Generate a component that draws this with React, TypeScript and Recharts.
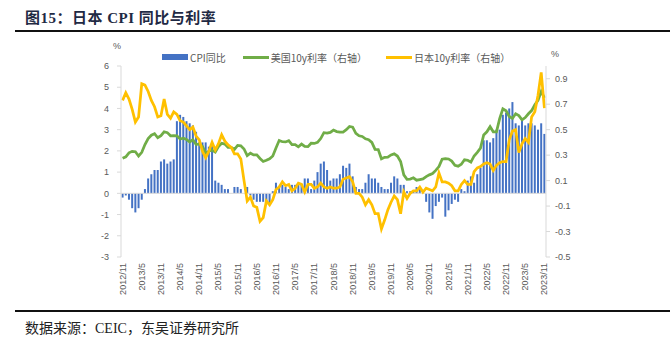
import React from "react";
import {
  ComposedChart,
  Bar,
  Line,
  XAxis,
  YAxis,
  Legend,
  ReferenceLine,
} from "recharts";

// monthly, 2012/11 - 2023/11
const startYear = 2012;
const startMonth = 11;

// 日本 CPI 同比 (%)
const cpiYoy = [
  -0.2, -0.1,
  -0.3, -0.7, -0.9, -0.7, -0.3, 0.2, 0.7, 0.9, 1.1, 1.1, 1.5, 1.6,
  1.4, 1.5, 1.6, 3.4, 3.7, 3.6, 3.4, 3.3, 3.2, 2.9, 2.4, 2.4,
  2.4, 2.2, 2.3, 0.6, 0.5, 0.4, 0.2, 0.2, 0.0, 0.3, 0.3, 0.2,
  0.0, 0.3, -0.1, -0.3, -0.4, -0.4, -0.4, -0.5, -0.5, 0.1, 0.5, 0.3,
  0.4, 0.3, 0.2, 0.4, 0.4, 0.4, 0.4, 0.7, 0.7, 0.2, 0.6, 1.0,
  1.4, 1.5, 1.1, 0.6, 0.7, 0.7, 0.9, 1.3, 1.2, 1.4, 0.8, 0.3,
  0.2, 0.2, 0.5, 0.9, 0.7, 0.7, 0.5, 0.3, 0.2, 0.2, 0.5, 0.8,
  0.7, 0.4, 0.4, 0.1, 0.1, 0.1, 0.3, 0.2, 0.0, -0.4, -0.9, -1.2,
  -0.6, -0.4, -0.2, -1.1, -0.8, -0.5, -0.3, -0.4, 0.2, 0.1, 0.6, 0.8,
  0.5, 0.9, 1.2, 2.5, 2.5, 2.4, 2.6, 3.0, 3.0, 3.7, 3.8, 4.0,
  4.3, 3.3, 3.2, 3.5, 3.2, 3.3, 3.3, 3.2, 3.0, 3.3, 2.8,
];

// 美国10y利率 (%), drawn against the left scale
const us10y = [
  1.65, 1.72,
  1.91, 1.98, 1.96, 1.76, 1.93, 2.3, 2.58, 2.74, 2.81, 2.62, 2.72, 2.9,
  2.86, 2.71, 2.72, 2.71, 2.56, 2.6, 2.54, 2.42, 2.53, 2.3, 2.33, 2.21,
  1.88, 1.98, 2.04, 1.94, 2.2, 2.36, 2.32, 2.17, 2.17, 2.07, 2.26, 2.24,
  2.09, 1.78, 1.89, 1.81, 1.81, 1.64, 1.5, 1.56, 1.63, 1.76, 2.14, 2.49,
  2.43, 2.42, 2.48, 2.3, 2.3, 2.19, 2.32, 2.21, 2.2, 2.36, 2.35, 2.4,
  2.58, 2.86, 2.84, 2.87, 2.98, 2.91, 2.89, 2.89, 3.0, 3.15, 3.12, 2.83,
  2.71, 2.68, 2.57, 2.53, 2.4, 2.07, 2.06, 1.63, 1.7, 1.71, 1.81, 1.86,
  1.76, 1.5, 0.87, 0.66, 0.67, 0.73, 0.62, 0.65, 0.68, 0.79, 0.87, 0.93,
  1.08, 1.26, 1.61, 1.64, 1.62, 1.52, 1.32, 1.28, 1.37, 1.58, 1.56, 1.47,
  1.76, 1.93, 2.13, 2.75, 2.9, 3.14, 2.9, 2.9, 3.52, 3.98, 3.89, 3.62,
  3.53, 3.75, 3.66, 3.46, 3.57, 3.75, 3.9, 4.17, 4.38, 4.8, 4.5,
];

// 日本10y利率 (%), right scale
const jp10y = [
  0.73, 0.79,
  0.74, 0.66, 0.56, 0.6, 0.86, 0.85, 0.8, 0.73, 0.68, 0.6, 0.61, 0.74,
  0.62, 0.59, 0.64, 0.62, 0.57, 0.56, 0.53, 0.5, 0.52, 0.45, 0.42, 0.33,
  0.28, 0.33, 0.4, 0.34, 0.39, 0.46, 0.41, 0.38, 0.36, 0.31, 0.31, 0.27,
  0.1, -0.06, -0.03, -0.1, -0.11, -0.22, -0.19, -0.06, -0.09, -0.05, 0.03, 0.05,
  0.09, 0.06, 0.07, 0.02, 0.04, 0.08, 0.07, 0.01, 0.07, 0.07, 0.04, 0.05,
  0.08, 0.05, 0.04, 0.05, 0.04, 0.04, 0.05, 0.11, 0.12, 0.13, 0.09, 0.0,
  0.0, -0.03, -0.09, -0.05, -0.09, -0.16, -0.16, -0.28, -0.21, -0.13, -0.07, -0.02,
  -0.05, -0.16, 0.01, -0.04, 0.0, 0.02, 0.02, 0.05, 0.01, 0.04, 0.03, 0.02,
  0.05, 0.16, 0.09, 0.09, 0.08, 0.06, 0.02, 0.02, 0.07, 0.1, 0.07, 0.07,
  0.17, 0.2, 0.21, 0.23, 0.24, 0.23, 0.18, 0.22, 0.24, 0.25, 0.25, 0.42,
  0.49, 0.5, 0.32, 0.39, 0.43, 0.4, 0.6, 0.64, 0.77, 0.95, 0.67,
];

const seriesNames = ["CPI同比", "美国10y利率（右轴）", "日本10y利率（右轴）"];
const leftTicks = [-3, -2, -1, 0, 1, 2, 3, 4, 5, 6];
const rightTicks = [-0.5, -0.3, -0.1, 0.1, 0.3, 0.5, 0.7, 0.9];

const months = cpiYoy.map((_, i) => {
  const m = startMonth - 1 + i;
  return `${startYear + Math.floor(m / 12)}/${(m % 12) + 1}`;
});

const data = months.map((month, i) => ({
  month,
  cpi: cpiYoy[i],
  us: us10y[i],
  jp: jp10y[i],
}));

const axisGray = "#d9d9d9";
const textGray = "#595959";
const sans = '"Liberation Sans", Arial, sans-serif';
const cjk = '"Noto Sans CJK SC", "Liberation Sans", sans-serif';
const serif = '"Liberation Serif", "Noto Sans CJK SC", serif';

const MonthTick = (props: any) => {
  const { x, y, payload } = props;
  return (
    <text
      x={x}
      y={y}
      transform={`rotate(-90 ${x} ${y})`}
      textAnchor="end"
      dominantBaseline="central"
      fontSize={9}
      fontFamily={sans}
      fill={textGray}
    >
      {payload.value}
    </text>
  );
};

const renderLegend = (props: any) => {
  const items = [...props.payload].sort(
    (a: any, b: any) => seriesNames.indexOf(a.value) - seriesNames.indexOf(b.value)
  );
  return (
    <div
      style={{
        height: 14,
        display: "flex",
        alignItems: "center",
        paddingLeft: 162,
        fontFamily: cjk,
        fontSize: 10,
        color: textGray,
      }}
    >
      {items.map((p: any, i: number) => (
        <div
          key={p.value}
          style={{ display: "flex", alignItems: "center", marginRight: i === 0 ? 17 : 19 }}
        >
          <span
            style={{
              display: "inline-block",
              width: 26,
              height: p.type === "rect" ? 6 : 3,
              background: p.color,
              marginRight: 2,
            }}
          />
          <span>{p.value}</span>
        </div>
      ))}
    </div>
  );
};

const App = () => {
  return (
    <div
      style={{
        position: "absolute",
        left: 0,
        top: 0,
        width: 670,
        height: 343,
        background: "#fff",
      }}
    >
      <div
        style={{
          position: "absolute",
          left: 25,
          top: 6,
          fontFamily: serif,
          fontSize: 15,
          fontWeight: "bold",
          color: "#1f2a44",
          whiteSpace: "nowrap",
          letterSpacing: 0.5,
        }}
      >
        图15：日本 CPI 同比与利率
      </div>
      <div
        style={{
          position: "absolute",
          left: 15,
          top: 30,
          width: 655,
          height: 2,
          background: "#111",
        }}
      />

      <div
        style={{
          position: "absolute",
          left: 0,
          top: 0,
          width: 670,
          height: 343,
        }}
      >
        <ComposedChart
          width={670}
          height={343}
          data={data}
          margin={{ top: 52, right: 84, bottom: 36, left: 81 }}
          barCategoryGap="18%"
        >
          <XAxis
            dataKey="month"
            interval={5}
            axisLine={false}
            tickLine={false}
            tickSize={0}
            tickMargin={6}
            height={50}
            tick={<MonthTick />}
          />
          <YAxis
            yAxisId="left"
            domain={[-3, 6]}
            ticks={leftTicks}
            width={40}
            axisLine={{ stroke: axisGray }}
            tickLine={{ stroke: axisGray }}
            tickSize={4}
            tickMargin={8}
            tick={{ fontSize: 9, fill: textGray, fontFamily: sans }}
            allowDataOverflow
          />
          <YAxis
            yAxisId="right"
            orientation="right"
            domain={[-0.5, 1.0]}
            ticks={rightTicks}
            width={40}
            axisLine={{ stroke: axisGray }}
            tickLine={{ stroke: axisGray }}
            tickSize={4}
            tickMargin={5}
            tickFormatter={(v: number) => v.toFixed(1)}
            tick={{ fontSize: 9, fill: textGray, fontFamily: sans }}
            allowDataOverflow
          />
          <ReferenceLine yAxisId="left" y={0} stroke={axisGray} />
          <Legend
            verticalAlign="top"
            align="left"
            content={renderLegend}
            wrapperStyle={{ left: 0, top: 50, width: 670 }}
          />
          <Bar
            yAxisId="left"
            dataKey="cpi"
            name={seriesNames[0]}
            fill="#4472C4"
            legendType="rect"
            isAnimationActive={false}
          />
          <Line
            yAxisId="left"
            dataKey="us"
            name={seriesNames[1]}
            stroke="#70AD47"
            strokeWidth={2.75}
            dot={false}
            activeDot={false}
            legendType="line"
            isAnimationActive={false}
          />
          <Line
            yAxisId="right"
            dataKey="jp"
            name={seriesNames[2]}
            stroke="#FFC000"
            strokeWidth={2.75}
            dot={false}
            activeDot={false}
            legendType="line"
            isAnimationActive={false}
          />
        </ComposedChart>
      </div>

      <div
        style={{
          position: "absolute",
          left: 113,
          top: 41,
          fontFamily: sans,
          fontSize: 9,
          color: textGray,
        }}
      >
        %
      </div>
      <div
        style={{
          position: "absolute",
          left: 551,
          top: 49,
          fontFamily: sans,
          fontSize: 9,
          color: textGray,
        }}
      >
        %
      </div>

      <div
        style={{
          position: "absolute",
          left: 15,
          top: 310,
          width: 655,
          height: 1.5,
          background: "#111",
        }}
      />
      <div
        style={{
          position: "absolute",
          left: 25,
          top: 317,
          fontFamily: serif,
          fontSize: 14,
          color: "#222",
          whiteSpace: "nowrap",
        }}
      >
        数据来源：CEIC，东吴证券研究所
      </div>
    </div>
  );
};

export default App;
